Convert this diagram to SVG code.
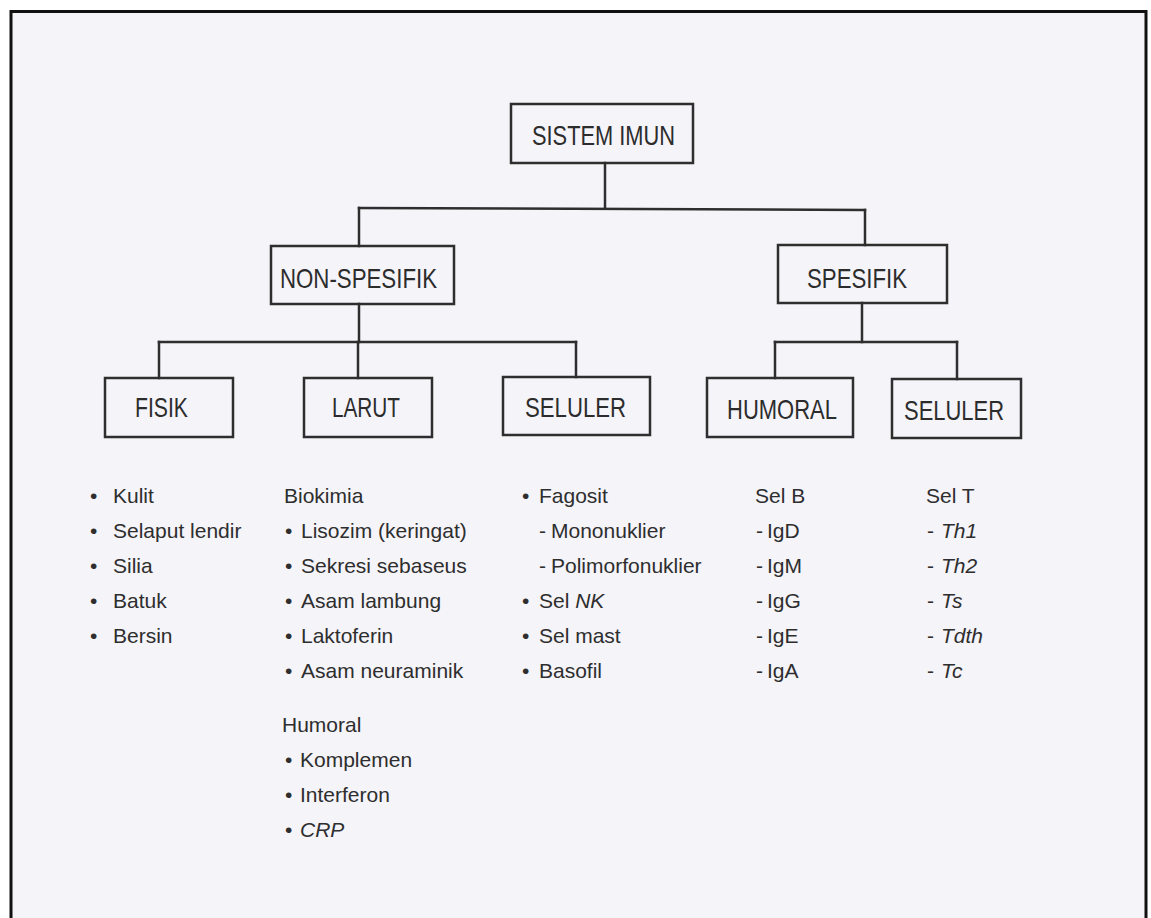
<svg xmlns="http://www.w3.org/2000/svg" width="1151" height="918" viewBox="0 0 1151 918">
  <style>
    .box { fill: none; stroke: #2e2e2e; stroke-width: 2.5; }
    .lbl { font-family: "Liberation Sans", Arial, sans-serif; font-size: 28px; fill: #2c2c2c; }
    .conn { fill: none; stroke: #2e2e2e; stroke-width: 2.5; stroke-linecap: square; }
    .li { font-family: "Liberation Sans", Arial, sans-serif; font-size: 21px; fill: #2e2e2e; }
    .it { font-style: italic; }
  </style>
  <rect x="0" y="0" width="1151" height="918" fill="#ffffff"/>
  <rect x="11" y="11.5" width="1135" height="910" fill="#f5f4f9"/>
  <path d="M11 918 V11.5 H1146 V918" fill="none" stroke="#111" stroke-width="3"/>

  <g id="connectors">
    <path class="conn" d="M605 163 V208"/>
    <path class="conn" d="M359 208 L865 210"/>
    <path class="conn" d="M359 208 V246"/>
    <path class="conn" d="M865 210 V245"/>
    <path class="conn" d="M359 304 V342"/>
    <path class="conn" d="M159 342 H576"/>
    <path class="conn" d="M159 342 V378"/>
    <path class="conn" d="M358 342 V378"/>
    <path class="conn" d="M576 342 V377"/>
    <path class="conn" d="M862 303 V342"/>
    <path class="conn" d="M775 342 H957"/>
    <path class="conn" d="M775 342 V378"/>
    <path class="conn" d="M957 342 V379"/>
  </g>

  <g id="sistem-imun">
    <rect class="box" x="511" y="104" width="182" height="59"/>
    <text class="lbl" x="532" y="145" textLength="143" lengthAdjust="spacingAndGlyphs">SISTEM IMUN</text>
  </g>
  <g id="non-spesifik">
    <rect class="box" x="271" y="246" width="183" height="58"/>
    <text class="lbl" x="280" y="288" textLength="157" lengthAdjust="spacingAndGlyphs">NON-SPESIFIK</text>
  </g>
  <g id="spesifik">
    <rect class="box" x="778" y="245" width="169" height="58"/>
    <text class="lbl" x="807" y="288" textLength="100" lengthAdjust="spacingAndGlyphs">SPESIFIK</text>
  </g>
  <g id="fisik">
    <rect class="box" x="105" y="378" width="128" height="59"/>
    <text class="lbl" x="135" y="417" textLength="53" lengthAdjust="spacingAndGlyphs">FISIK</text>
  </g>
  <g id="larut">
    <rect class="box" x="304" y="378" width="128" height="59"/>
    <text class="lbl" x="332" y="417" textLength="68" lengthAdjust="spacingAndGlyphs">LARUT</text>
  </g>
  <g id="seluler-nonspesifik">
    <rect class="box" x="503" y="377" width="147" height="58"/>
    <text class="lbl" x="525" y="417" textLength="101" lengthAdjust="spacingAndGlyphs">SELULER</text>
  </g>
  <g id="humoral">
    <rect class="box" x="707" y="378" width="146" height="59"/>
    <text class="lbl" x="727" y="419" textLength="110" lengthAdjust="spacingAndGlyphs">HUMORAL</text>
  </g>
  <g id="seluler-spesifik">
    <rect class="box" x="892" y="379" width="129" height="59"/>
    <text class="lbl" x="904" y="420" textLength="100" lengthAdjust="spacingAndGlyphs">SELULER</text>
  </g>

  <g id="list-fisik" class="li">
    <text x="90" y="503">•</text><text x="113" y="503">Kulit</text>
    <text x="90" y="538">•</text><text x="113" y="538">Selaput lendir</text>
    <text x="90" y="573">•</text><text x="113" y="573">Silia</text>
    <text x="90" y="608">•</text><text x="113" y="608">Batuk</text>
    <text x="90" y="643">•</text><text x="113" y="643">Bersin</text>
  </g>

  <g id="list-larut" class="li">
    <text x="284" y="503">Biokimia</text>
    <text x="285" y="538">•</text><text x="301" y="538">Lisozim (keringat)</text>
    <text x="285" y="573">•</text><text x="301" y="573">Sekresi sebaseus</text>
    <text x="285" y="608">•</text><text x="301" y="608">Asam lambung</text>
    <text x="285" y="643">•</text><text x="301" y="643">Laktoferin</text>
    <text x="285" y="678">•</text><text x="301" y="678">Asam neuraminik</text>
    <text x="282" y="732">Humoral</text>
    <text x="285" y="767">•</text><text x="300" y="767">Komplemen</text>
    <text x="285" y="802">•</text><text x="300" y="802">Interferon</text>
    <text x="285" y="837">•</text><text class="it" x="300" y="837">CRP</text>
  </g>

  <g id="list-seluler-nonspesifik" class="li">
    <text x="522" y="503">•</text><text x="539" y="503">Fagosit</text>
    <text x="539" y="538">-</text><text x="551" y="538">Mononuklier</text>
    <text x="539" y="573">-</text><text x="551" y="573">Polimorfonuklier</text>
    <text x="522" y="608">•</text><text x="539" y="608">Sel <tspan class="it">NK</tspan></text>
    <text x="522" y="643">•</text><text x="539" y="643">Sel mast</text>
    <text x="522" y="678">•</text><text x="539" y="678">Basofil</text>
  </g>

  <g id="list-humoral" class="li">
    <text x="755" y="503">Sel B</text>
    <text x="756" y="538">-</text><text x="767" y="538">IgD</text>
    <text x="756" y="573">-</text><text x="767" y="573">IgM</text>
    <text x="756" y="608">-</text><text x="767" y="608">IgG</text>
    <text x="756" y="643">-</text><text x="767" y="643">IgE</text>
    <text x="756" y="678">-</text><text x="767" y="678">IgA</text>
  </g>

  <g id="list-seluler-spesifik" class="li">
    <text x="926" y="503">Sel T</text>
    <text x="927" y="538">-</text><text class="it" x="941" y="538">Th1</text>
    <text x="927" y="573">-</text><text class="it" x="941" y="573">Th2</text>
    <text x="927" y="608">-</text><text class="it" x="941" y="608">Ts</text>
    <text x="927" y="643">-</text><text class="it" x="941" y="643">Tdth</text>
    <text x="927" y="678">-</text><text class="it" x="941" y="678">Tc</text>
  </g>
</svg>
